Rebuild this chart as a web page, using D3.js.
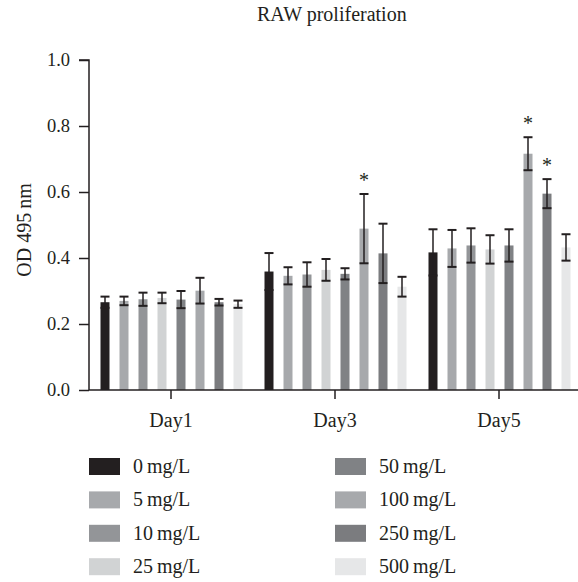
<!DOCTYPE html>
<html>
<head>
<meta charset="utf-8">
<script src="https://cdn.jsdelivr.net/npm/d3@7"></script>
<style>
  html, body { margin: 0; padding: 0; background: #fff; }
  svg { display: block; }
  text { font-family: "Liberation Serif", "DejaVu Serif", serif; fill: #231f20; }
</style>
</head>
<body>
<svg id="chart" width="578" height="582"></svg>
<script>
const days = ["Day1", "Day3", "Day5"];
const series = ["0\u2009mg/L", "5\u2009mg/L", "10\u2009mg/L", "25\u2009mg/L", "50\u2009mg/L", "100\u2009mg/L", "250\u2009mg/L", "500\u2009mg/L"];
const colors = ["#231f20", "#a7a9ac", "#939598", "#d1d3d4", "#808285", "#a7a9ac", "#7b7c7f", "#e6e7e8"];
// mean values per series, [Day1, Day3, Day5]
const values = [
  [0.266, 0.359, 0.417],
  [0.270, 0.346, 0.429],
  [0.275, 0.350, 0.438],
  [0.279, 0.364, 0.426],
  [0.274, 0.352, 0.438],
  [0.301, 0.489, 0.716],
  [0.266, 0.414, 0.595],
  [0.260, 0.313, 0.432]
];
const errors = [
  [0.017, 0.056, 0.070],
  [0.013, 0.026, 0.056],
  [0.020, 0.037, 0.052],
  [0.016, 0.033, 0.043],
  [0.026, 0.017, 0.049],
  [0.039, 0.105, 0.050],
  [0.010, 0.090, 0.044],
  [0.011, 0.030, 0.040]
];
// significance markers: [series index, day index]
const stars = [[5, 1], [5, 2], [6, 2]];
const yTicks = [0, 0.2, 0.4, 0.6, 0.8, 1.0];
const title = "RAW proliferation";
const yLabel = "OD 495\u2009nm";

const svg = d3.select("#chart");
const ink = "#231f20";

const x0 = d3.scaleBand().domain(days).range([89, 581]).padding(0);
const x1 = d3.scaleBand().domain(series).range([6.5, 158.5]).paddingInner(10 / 19).paddingOuter(5 / 19);
const y = d3.scaleLinear().domain([0, 1]).range([390, 60]);

// title
svg.append("text").attr("x", 257).attr("y", 21).attr("text-anchor", "start")
  .style("font-size", "20px").text(title);

// y label
svg.append("text").attr("transform", "translate(31,230) rotate(-90)")
  .attr("text-anchor", "middle").style("font-size", "20px").text(yLabel);

// bars
const data = [];
series.forEach((s, i) => days.forEach((d, j) => data.push({ s, d, i, j, v: values[i][j], e: errors[i][j] })));

const g = svg.append("g");
g.selectAll("rect.bar").data(data).join("rect")
  .attr("class", "bar")
  .attr("x", d => x0(d.d) + x1(d.s))
  .attr("width", x1.bandwidth())
  .attr("y", d => y(d.v))
  .attr("height", d => y(0) - y(d.v))
  .attr("fill", d => colors[d.i]);

// error bars
const cx = d => x0(d.d) + x1(d.s) + x1.bandwidth() / 2;
const eb = g.selectAll("g.err").data(data).join("g").attr("class", "err")
  .attr("stroke", ink).attr("stroke-width", 1.5);
eb.append("line").attr("x1", cx).attr("x2", cx).attr("y1", d => y(d.v - d.e)).attr("y2", d => y(d.v + d.e));
eb.append("line").attr("x1", d => cx(d) - 4.5).attr("x2", d => cx(d) + 4.5).attr("y1", d => y(d.v + d.e)).attr("y2", d => y(d.v + d.e)).attr("stroke-width", 2);
eb.append("line").attr("x1", d => cx(d) - 4.5).attr("x2", d => cx(d) + 4.5).attr("y1", d => y(d.v - d.e)).attr("y2", d => y(d.v - d.e)).attr("stroke-width", 2);

// stars
svg.selectAll("text.star").data(stars).join("text").attr("class", "star")
  .attr("x", d => x0(days[d[1]]) + x1(series[d[0]]) + x1.bandwidth() / 2)
  .attr("y", d => y(values[d[0]][d[1]] + errors[d[0]][d[1]]) - 7)
  .attr("text-anchor", "middle").style("font-size", "20px").text("*");

// y axis
const yAxis = svg.append("g").attr("transform", "translate(89,0)")
  .call(d3.axisLeft(y).tickValues(yTicks).tickFormat(d3.format(".1f")).tickSize(10).tickPadding(9));
yAxis.select(".domain").attr("d", `M-10,${y(1)}H0V${y(0)}`);
yAxis.selectAll("path, line").attr("stroke", ink).attr("stroke-width", 1.5);
yAxis.selectAll("text").style("font-size", "18.5px").style("font-family", "Liberation Serif").attr("fill", ink);

// x axis
const xAxis = svg.append("g").attr("transform", `translate(0,${y(0)})`)
  .call(d3.axisBottom(x0).tickSize(9).tickPadding(14));
xAxis.select(".domain").attr("d", `M89,0H578`);
xAxis.selectAll("path, line").attr("stroke", ink).attr("stroke-width", 1.5);
xAxis.selectAll("text").style("font-size", "20px").style("font-family", "Liberation Serif").attr("fill", ink);

// legend
const legend = svg.append("g");
const items = legend.selectAll("g").data(series).join("g")
  .attr("transform", (d, i) => `translate(${i < 4 ? 89 : 335},${458 + (i % 4) * 33.4})`);
items.append("rect").attr("width", 31).attr("height", 17).attr("fill", (d, i) => colors[i]);
items.append("text").attr("x", 44).attr("y", 15).style("font-size", "20px").text(d => d);
</script>
</body>
</html>
